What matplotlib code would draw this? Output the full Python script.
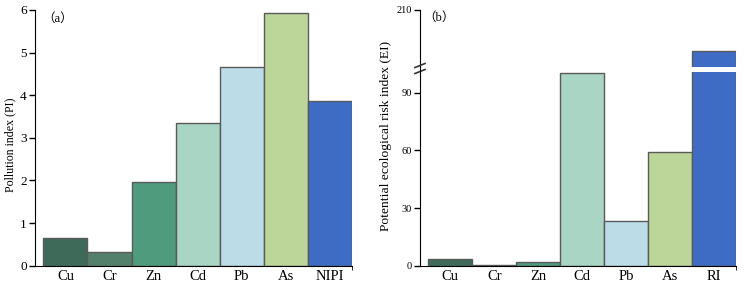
import numpy as np
import matplotlib
matplotlib.use('Agg')
import matplotlib.pyplot as plt

plt.rcParams['font.family'] = ['Liberation Serif', 'Noto Sans CJK SC']

# data
elems_a = ['Cu', 'Cr', 'Zn', 'Cd', 'Pb', 'As', 'NIPI']
pi_vals = [0.65, 0.33, 1.96, 3.35, 4.66, 5.93, 3.86]

elems_b = ['Cu', 'Cr', 'Zn', 'Cd', 'Pb', 'As', 'RI']
ei_vals = [3.3, 0.5, 1.9, 100.2, 23.4, 59.0, 188.5]

cores = ['#3e6b59', '#52806a', '#4f9b7e', '#a9d5c4', '#bcdde8', '#bcd69a', '#3e6cc4']
borda = '#5a5a5a'

fig = plt.figure(figsize=(7.49, 2.84), dpi=100)

def estilo(ax, tam_y):
    ax.spines['top'].set_visible(False)
    ax.spines['right'].set_visible(False)
    ax.tick_params(axis='y', direction='out', length=4, width=1, labelsize=tam_y, pad=2)
    ax.tick_params(axis='x', length=0, labelsize=10.5, pad=3)
    ax.set_xlim(-0.69, 6.5)
    # small tick at end of the x axis
    ax.set_xticks([6.5], minor=True)
    ax.tick_params(axis='x', which='minor', length=3, direction='out')

x = np.arange(len(elems_a))

# ---- (a)
ax1 = fig.add_axes([0.0467, 0.0644, 0.4233, 0.9006])
ax1.bar(x, pi_vals, width=1.0, color=cores, edgecolor=borda, linewidth=1)
ax1.set_ylim(0, 6)
ax1.set_yticks([0, 1, 2, 3, 4, 5, 6])
ax1.set_xticks(x)
ax1.set_xticklabels(elems_a)
estilo(ax1, 9.5)
ax1.set_ylabel('Pollution index (PI)', fontsize=8.6)
ax1.yaxis.set_label_coords(-0.058, 0.472)
ax1.text(0.022, 0.99, '（a）', transform=ax1.transAxes, fontsize=9,
         va='top', ha='left')

# ---- (b) broken axis
baixo = fig.add_axes([0.5607, 0.0644, 0.4220, 0.6831])
cima = fig.add_axes([0.5607, 0.7640, 0.4220, 0.2010])

baixo.bar(x, ei_vals, width=1.0, color=cores, edgecolor=borda, linewidth=1)
baixo.set_ylim(0, 101)
baixo.set_yticks([0, 30, 60, 90])
baixo.set_xticks(x)
baixo.set_xticklabels(elems_b)
estilo(baixo, 7.5)
baixo.set_ylabel('Potential ecological risk index (EI)', fontsize=9.7)
baixo.yaxis.set_label_coords(-0.09, 0.668)

cima.bar(x, ei_vals, width=1.0, color=cores, edgecolor=borda, linewidth=1)
cima.set_ylim(180.4, 210)
cima.set_yticks([210])
cima.set_xlim(-0.69, 6.5)
cima.spines['top'].set_visible(False)
cima.spines['right'].set_visible(False)
cima.spines['bottom'].set_visible(False)
cima.tick_params(axis='x', bottom=False, labelbottom=False)
cima.tick_params(axis='y', direction='out', length=4, width=1, labelsize=7.5, pad=2)
cima.text(0.01, 0.97, '（b）', transform=cima.transAxes, fontsize=9,
          va='top', ha='left')

# break marks on the y axis
for yy in [65.5, 71.5]:
    fig.add_artist(plt.Line2D([415 / 749, 425 / 749],
                              [1 - (yy + 2) / 284, 1 - (yy - 2) / 284],
                              color='#333333', linewidth=1.2))
# join the spine across the gap
fig.add_artist(plt.Line2D([420 / 749, 420 / 749], [0.7475, 0.7640],
                          color='black', linewidth=0.8))

plt.savefig('out.png', dpi=100)
